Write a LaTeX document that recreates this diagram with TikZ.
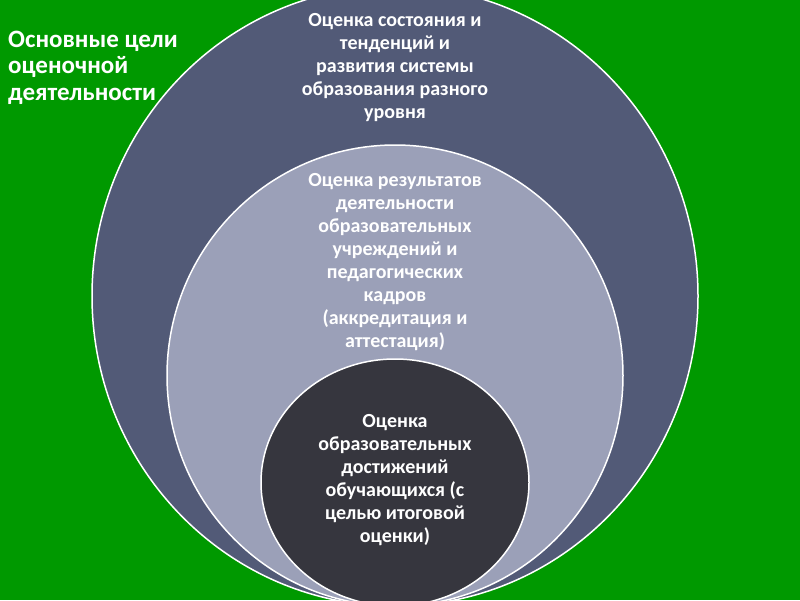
\documentclass[tikz,border=0pt]{standalone}
\usepackage{fontspec}
\setmainfont{Carlito}
\definecolor{bggreen}{HTML}{009900}
\definecolor{outerblue}{HTML}{525A77}
\definecolor{midblue}{HTML}{9BA0B8}
\definecolor{innergray}{HTML}{36363E}
\begin{document}
\begin{tikzpicture}[x=1pt,y=-1pt,
    ring/.style={draw=white,line width=1.5pt},
    lbl/.style={text=white,font=\bfseries\fontsize{20}{23}\selectfont,align=center,inner sep=0pt}]
    % Background
    \fill[bggreen] (0,0) rectangle (800,600);
    \useasboundingbox (0,0) rectangle (800,600);
    \clip (0,0) rectangle (800,600);

    % Nested ovals (all touching at the bottom)
    \filldraw[ring,fill=outerblue] (395,296) ellipse [x radius=303pt, y radius=310pt];
    \filldraw[ring,fill=midblue] (395,375.5) ellipse [x radius=228pt, y radius=230.5pt];
    \filldraw[ring,fill=innergray] (395,482.5) ellipse [x radius=134pt, y radius=123.5pt];

    % Labels
    \node[lbl] (outerlbl) at (395,67.5) {Оценка состояния и\\тенденций и\\развития системы\\образования разного\\уровня};
    \node[lbl] (midlbl) at (395,262.5) {Оценка результатов\\деятельности\\образовательных\\учреждений и\\педагогических\\кадров\\(аккредитация и\\аттестация)};
    \node[lbl] (innerlbl) at (395,480) {Оценка\\образовательных\\достижений\\обучающихся (с\\целью итоговой\\оценки)};
    \node[lbl,anchor=west,align=left,font=\bfseries\fontsize{25}{26.5}\selectfont] (title) at (8,67.5) {Основные цели\\оценочной\\деятельности};
\end{tikzpicture}
\end{document}
